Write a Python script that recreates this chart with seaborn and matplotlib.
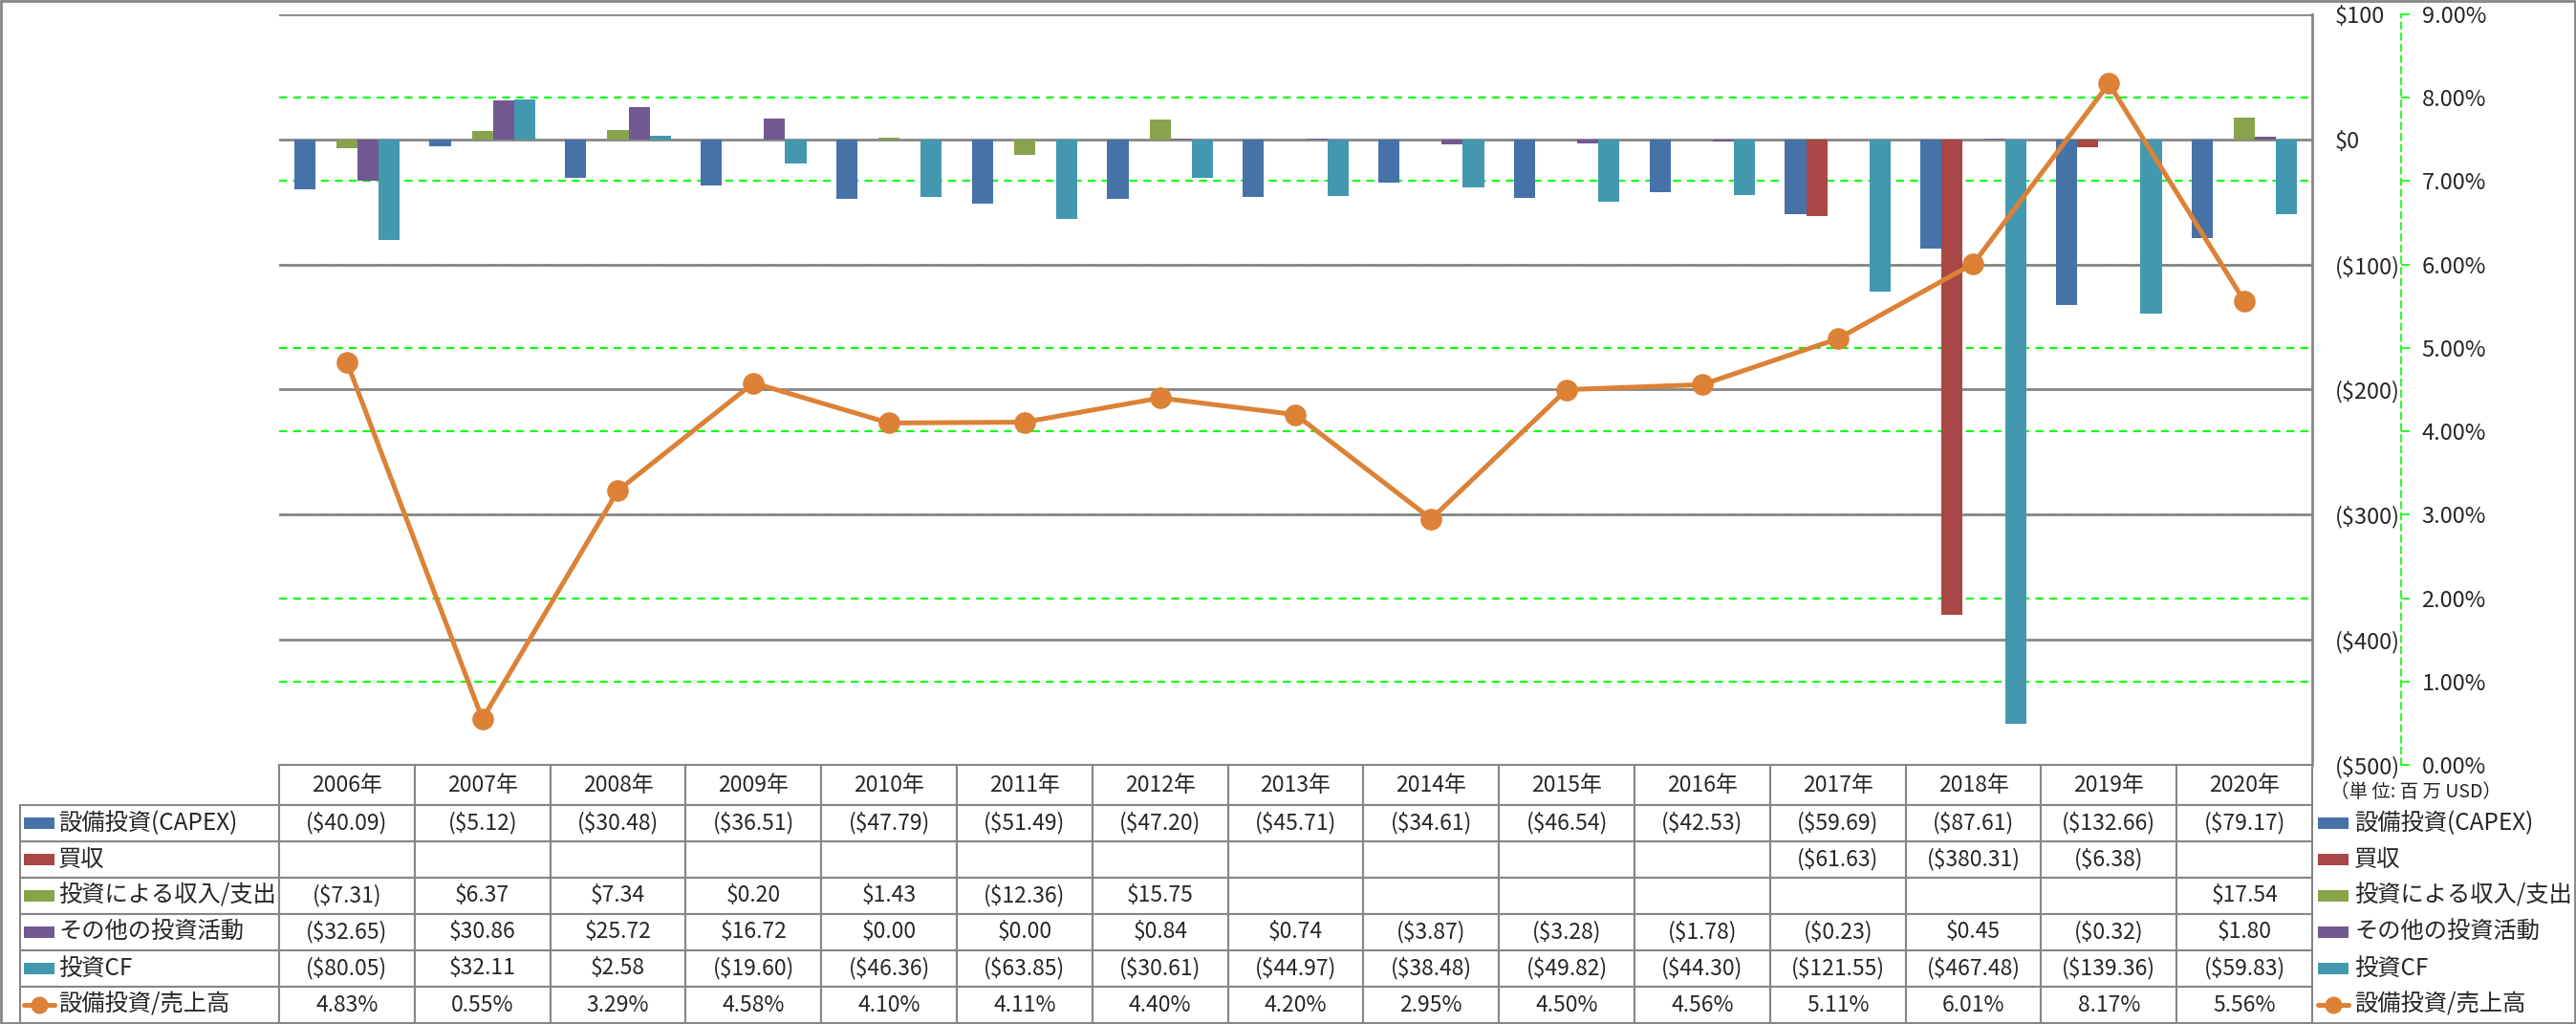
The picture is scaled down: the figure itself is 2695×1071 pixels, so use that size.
import numpy as np
import pandas as pd
import matplotlib.pyplot as plt
import seaborn as sns
from matplotlib.lines import Line2D
from matplotlib.patches import Rectangle

nan = np.nan

years = ['2006年', '2007年', '2008年', '2009年', '2010年', '2011年', '2012年', '2013年',
         '2014年', '2015年', '2016年', '2017年', '2018年', '2019年', '2020年']
capex = [-40.09, -5.12, -30.48, -36.51, -47.79, -51.49, -47.20, -45.71,
         -34.61, -46.54, -42.53, -59.69, -87.61, -132.66, -79.17]
acquisition = [nan, nan, nan, nan, nan, nan, nan, nan,
               nan, nan, nan, -61.63, -380.31, -6.38, nan]
inv_income = [-7.31, 6.37, 7.34, 0.20, 1.43, -12.36, 15.75, nan,
              nan, nan, nan, nan, nan, nan, 17.54]
other_inv = [-32.65, 30.86, 25.72, 16.72, 0.00, 0.00, 0.84, 0.74,
             -3.87, -3.28, -1.78, -0.23, 0.45, -0.32, 1.80]
inv_cf = [-80.05, 32.11, 2.58, -19.60, -46.36, -63.85, -30.61, -44.97,
          -38.48, -49.82, -44.30, -121.55, -467.48, -139.36, -59.83]
capex_ratio = [4.83, 0.55, 3.29, 4.58, 4.10, 4.11, 4.40, 4.20,
               2.95, 4.50, 4.56, 5.11, 6.01, 8.17, 5.56]

series_names = ['設備投資(CAPEX)', '買収', '投資による収入/支出', 'その他の投資活動', '投資CF']
series_vals = [capex, acquisition, inv_income, other_inv, inv_cf]
line_name = '設備投資/売上高'
colors = ['#4672A8', '#A84745', '#88A34C', '#725890', '#4398B0']
line_color = '#DC8136'
grey = '#868686'
green = '#00FF00'

dollar_ticks = [-500, -400, -300, -200, -100, 0, 100]
pct_ticks = [0.00, 0.01, 0.02, 0.03, 0.04, 0.05, 0.06, 0.07, 0.08, 0.09]

sns.set_style('white')
plt.rcParams['font.family'] = ['Noto Sans CJK JP', 'DejaVu Sans']

W, H = 2695, 1071
fig = plt.figure(figsize=(W / 100, H / 100), dpi=100)


def box(x0, y0, x1, y1):
    # pixel box (top-left origin) -> figure rect
    return [x0 / W, 1 - y1 / H, (x1 - x0) / W, (y1 - y0) / H]


def money(v):
    if np.isnan(v):
        return ''
    return f'(${-v:.2f})' if v < 0 else f'${v:.2f}'


wide = pd.DataFrame(dict(zip(series_names, series_vals)), index=years)
long = wide.reset_index(names='year').melt(id_vars='year', var_name='series',
                                           value_name='value').dropna()

ax = fig.add_axes(box(292, 15, 2419, 800))
ax2 = ax.twinx()   # percent axis + green grid, kept behind the bars
ax3 = ax.twinx()   # line on top
ax2.set_zorder(-1)
ax.set_zorder(1)
ax3.set_zorder(2)
ax.patch.set_visible(False)

sns.barplot(data=long, x='year', y='value', hue='series', order=years,
            hue_order=series_names, palette=dict(zip(series_names, colors)),
            width=0.78, gap=0, saturation=1, errorbar=None, linewidth=0,
            legend=False, ax=ax)
ax.set_ylim(-500, 100)
ax.set_yticks(dollar_ticks, labels=[f'${v}' if v >= 0 else f'(${-v})' for v in dollar_ticks])
for lbl, v in zip(ax.get_yticklabels(), dollar_ticks):
    lbl.set_color('black' if v >= 0 else '#FF0000')
ax.yaxis.tick_right()
ax.tick_params(axis='y', length=0, pad=17, labelsize=17)
ax.tick_params(axis='x', bottom=False, labelbottom=False)
ax.set_xlabel('')
ax.set_ylabel('')
ax.yaxis.grid(True, color=grey, lw=2)
ax.xaxis.grid(False)
ax.set_axisbelow(True)
for s in ['left', 'top', 'bottom']:
    ax.spines[s].set_visible(False)
ax.spines['right'].set_color(grey)
ax.spines['right'].set_linewidth(2)

ax2.set_ylim(0, 0.09)
ax2.set_yticks(pct_ticks, labels=[f'{p * 100:.2f}%' for p in pct_ticks])
ax2.yaxis.grid(True, color=green, lw=1.5, linestyle=(0, (4, 3)))
ax2.tick_params(axis='y', length=6.5, width=1.2, color=green, pad=9, labelsize=17)
for s in ['left', 'top', 'bottom']:
    ax2.spines[s].set_visible(False)
ax2.spines['right'].set_position(('outward', 67))
ax2.spines['right'].set_color(green)
ax2.spines['right'].set_linestyle((0, (4, 3)))
ax2.spines['right'].set_linewidth(1.2)

sns.lineplot(x=np.arange(len(years)), y=np.array(capex_ratio) / 100, ax=ax3,
             color=line_color, lw=3.6, marker='o', ms=15.5, mec=line_color,
             mfc=line_color)
ax3.set_ylim(0, 0.09)
ax3.set_axis_off()
ax.set_xlim(-0.5, len(years) - 0.5)

# data table
tab_ax = fig.add_axes(box(21, 800, 2419, 1070))
tab_ax.axis('off')
cell_text = [[name] + [money(v) for v in vals] for name, vals in zip(series_names, series_vals)]
cell_text.append([line_name] + [f'{p:.2f}%' for p in capex_ratio])
tbl = tab_ax.table(cellText=cell_text, colLabels=[''] + years,
                   colWidths=[271] + [141.8] * len(years), cellLoc='center',
                   bbox=[0, 0, 1, 1])
tbl.auto_set_font_size(False)
tbl.set_fontsize(16.5)
for (r, c), cell in tbl.get_celld().items():
    cell.set_edgecolor(grey)
    cell.set_linewidth(1.5)
    cell.set_height(42 if r == 0 else 38)
    if c == 0:
        if r == 0:
            cell.visible_edges = 'open'
        else:
            cell.get_text().set_horizontalalignment('left')
            cell.get_text().set_fontsize(17.5)
            cell.PAD = 40 / 271

# legend keys (table and right side)
row_y = [861, 899, 937, 975, 1013, 1051]
for x0, with_text in [(25, False), (2425, True)]:
    for i, y in enumerate(row_y):
        if i < len(colors):
            fig.add_artist(Rectangle((x0 / W, 1 - (y + 6) / H), 32 / W, 12 / H,
                                     transform=fig.transFigure, color=colors[i], lw=0))
        else:
            fig.add_artist(Line2D([x0 / W, (x0 + 32) / W], [1 - y / H] * 2,
                                  transform=fig.transFigure, color=line_color, lw=3.6))
            fig.add_artist(Line2D([(x0 + 16) / W], [1 - y / H], transform=fig.transFigure,
                                  marker='o', ms=12, color=line_color))
        if with_text:
            name = series_names[i] if i < len(series_names) else line_name
            fig.text((x0 + 38) / W, 1 - y / H, name, fontsize=17.5, va='center', ha='left')

fig.text(2438 / W, 1 - 828 / H, '（単 位: 百 万 USD）', fontsize=14, va='center', ha='left')
fig.add_artist(Rectangle((0.0004, 0.001), 0.9992, 0.998, transform=fig.transFigure,
                         fill=False, edgecolor=grey, lw=2))

fig.savefig('out.png', dpi=100)
